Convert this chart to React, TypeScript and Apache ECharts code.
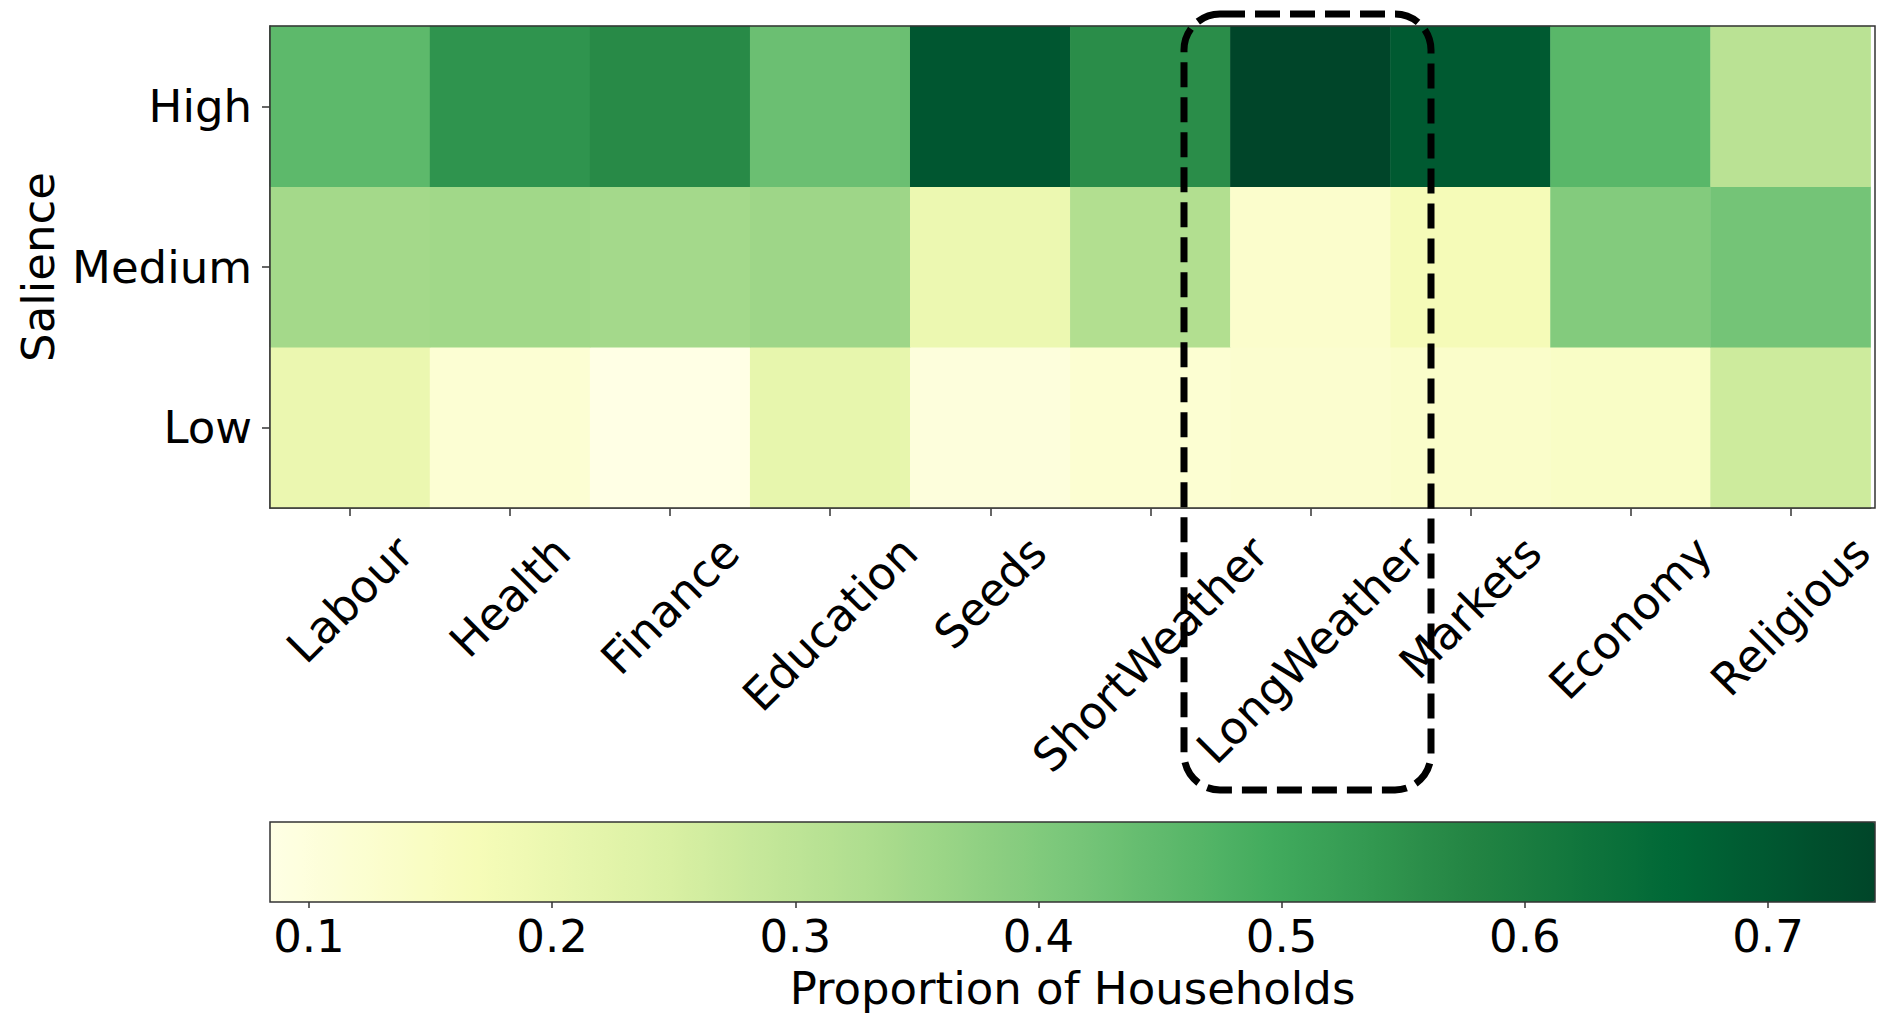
import React, { useEffect, useRef } from "react";
import * as echarts from "echarts";

const categories = ["Labour", "Health", "Finance", "Education", "Seeds", "ShortWeather", "LongWeather", "Markets", "Economy", "Religious"];
const salienceLevels = ["Low", "Medium", "High"];
const highValues = [0.455, 0.545, 0.566, 0.434, 0.704, 0.559, 0.744, 0.694, 0.46, 0.308];
const mediumValues = [0.346, 0.35, 0.345, 0.355, 0.196, 0.322, 0.13, 0.172, 0.397, 0.42];
const lowValues = [0.2, 0.117, 0.084, 0.21, 0.1, 0.119, 0.126, 0.134, 0.143, 0.272];
const colorbarTicks = [0.1, 0.2, 0.3, 0.4, 0.5, 0.6, 0.7];
const ylgn = ["#ffffe5", "#f7fcb9", "#d9f0a3", "#addd8e", "#78c679", "#41ab5d", "#238443", "#006837", "#004529"];

const FONT = "DejaVu Sans";
const FS = 45;

export default function App() {
  const ref = useRef<HTMLDivElement>(null);
  useEffect(() => {
    if (!ref.current) return;
    const chart = echarts.init(ref.current, undefined, { renderer: "svg" });
    const rows = [lowValues, mediumValues, highValues];
    const data: number[][] = [];
    rows.forEach((row, yi) => row.forEach((v, xi) => data.push([xi, yi, v])));
    const all = rows.flat();
    const vmin = Math.min(...all);
    const vmax = Math.max(...all);

    const canvas = document.createElement("canvas");
    const ctx = canvas.getContext("2d")!;
    ctx.font = `${FS}px "${FONT}"`;
    const rich: Record<string, any> = {};
    categories.forEach((c, i) => {
      const L = ctx.measureText(c).width;
      const P = (L + FS * 1.05) / 2;
      rich["l" + i] = { fontSize: FS, fontFamily: FONT, color: "#000", padding: [P, P, 0, 0] };
    });

    const gLeft = 270, gTop = 26, gW = 1605, gH = 482;
    const cbTop = 822, cbH = 80;

    chart.setOption({
      animation: false,
      backgroundColor: "#fff",
      textStyle: { fontFamily: FONT },
      grid: [
        { left: gLeft, top: gTop, width: gW, height: gH },
        { left: gLeft, top: cbTop, width: gW, height: cbH },
      ],
      xAxis: [
        {
          type: "category",
          gridIndex: 0,
          data: categories,
          axisLine: { show: true, lineStyle: { color: "#333", width: 1.5 } },
          axisTick: { show: true, alignWithLabel: true, length: 8, lineStyle: { color: "#333", width: 1.5 } },
          axisLabel: {
            interval: 0,
            rotate: 45,
            align: "center",
            verticalAlign: "middle",
            margin: 20,
            formatter: (v: string, i: number) => `{l${i}|${v}}`,
            rich,
          },
          splitLine: { show: false },
        },
        {
          type: "value",
          gridIndex: 1,
          min: vmin,
          max: vmax,
          axisLine: { show: false },
          axisTick: { show: true, customValues: colorbarTicks, length: 6, lineStyle: { color: "#333", width: 1.5 } },
          axisLabel: {
            customValues: colorbarTicks,
            fontSize: FS,
            fontFamily: FONT,
            color: "#000",
            margin: 12,
            formatter: (v: number) => v.toFixed(1),
          },
          splitLine: { show: false },
          name: "Proportion of Households",
          nameLocation: "middle",
          nameGap: 64,
          nameTextStyle: { fontSize: FS, fontFamily: FONT, color: "#000" },
        },
      ],
      yAxis: [
        {
          type: "category",
          gridIndex: 0,
          data: salienceLevels,
          axisLine: { show: true, lineStyle: { color: "#333", width: 1.5 } },
          axisTick: { show: true, alignWithLabel: true, length: 8, lineStyle: { color: "#333", width: 1.5 } },
          axisLabel: { fontSize: FS, fontFamily: FONT, color: "#000", margin: 18 },
          name: "Salience",
          nameLocation: "middle",
          nameGap: 205,
          nameRotate: 90,
          nameTextStyle: { fontSize: FS, fontFamily: FONT, color: "#000" },
          splitLine: { show: false },
        },
        { type: "value", gridIndex: 1, show: false, min: 0, max: 1 },
      ],
      visualMap: {
        type: "continuous",
        seriesIndex: 0,
        min: vmin,
        max: vmax,
        orient: "horizontal",
        left: gLeft,
        top: cbTop,
        itemWidth: cbH,
        itemHeight: gW,
        padding: 0,
        calculable: false,
        hoverLink: false,
        text: null,
        showLabel: false,
        inRange: { color: ylgn },
      },
      series: [
        {
          type: "heatmap",
          xAxisIndex: 0,
          yAxisIndex: 0,
          data,
          emphasis: { disabled: true },
          itemStyle: { borderWidth: 0 },
        },
      ],
      graphic: [
        {
          type: "rect",
          z: 100,
          silent: true,
          shape: { x: gLeft, y: gTop, width: gW, height: gH },
          style: { fill: "none", stroke: "#333", lineWidth: 1.5 },
        },
        {
          type: "rect",
          z: 100,
          silent: true,
          shape: { x: gLeft, y: cbTop, width: gW, height: cbH },
          style: { fill: "none", stroke: "#333", lineWidth: 1.5 },
        },
        {
          type: "rect",
          z: 110,
          silent: true,
          shape: { x: 1184, y: 14, width: 247, height: 776, r: 36 },
          style: { fill: "none", stroke: "#000", lineWidth: 7, lineDash: [25, 10] },
        },
      ],
    });
    return () => chart.dispose();
  }, []);
  return <div ref={ref} style={{ position: "fixed", left: 0, top: 0, width: 1880, height: 1016 }} />;
}
